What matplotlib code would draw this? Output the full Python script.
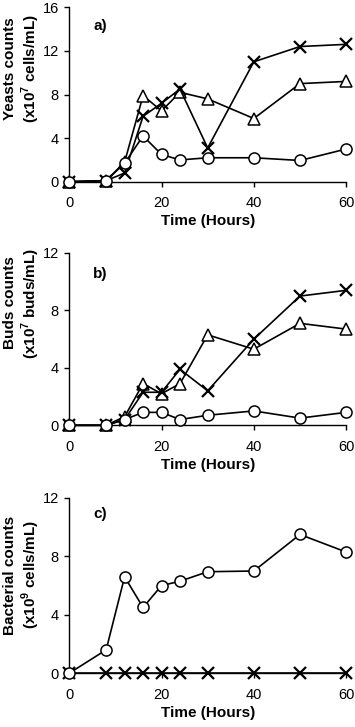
import matplotlib
matplotlib.use("Agg")
import matplotlib.pyplot as plt

plt.rcParams["font.family"] = ["Liberation Sans", "DejaVu Sans"]
plt.rcParams["mathtext.fontset"] = "custom"
plt.rcParams["mathtext.rm"] = "Liberation Sans"
plt.rcParams["mathtext.bf"] = "Liberation Sans:bold"

# sampling times (hours)
TIME = [0, 8, 12, 16, 20, 24, 30, 40, 50, 60]

# a) yeasts counts (x10^7 cells/mL)
YEAST_CIRCLE = [0, 0.1, 1.7, 4.2, 2.5, 2.0, 2.2, 2.2, 1.95, 3.0]
YEAST_TRIANGLE = [0, 0.1, 1.8, 7.9, 6.5, 8.2, 7.6, 5.8, 9.0, 9.2]
YEAST_CROSS = [0, 0.1, 0.8, 6.0, 7.2, 8.5, 3.1, 11.0, 12.4, 12.6]

# b) buds counts (x10^7 buds/mL)
BUDS_CIRCLE = [0, 0, 0.4, 0.9, 0.9, 0.4, 0.7, 1.0, 0.5, 0.9]
BUDS_TRIANGLE = [0, 0, 0.6, 2.9, 2.2, 2.9, 6.3, 5.3, 7.1, 6.7]
BUDS_CROSS = [0, 0, 0.4, 2.3, 2.3, 3.9, 2.4, 6.0, 9.0, 9.4]

# c) bacterial counts (x10^9 cells/mL)
BACT_CIRCLE = [0, 1.6, 6.6, 4.5, 6.0, 6.3, 6.95, 7.0, 9.5, 8.3]
BACT_CROSS = [0, 0, 0, 0, 0, 0, 0, 0, 0, 0]

PANELS = [
    ("a)", "Yeasts counts\n(x10$^{\\mathbf{7}}$ cells/mL)", 16, [0, 4, 8, 12, 16],
     [YEAST_CIRCLE, YEAST_TRIANGLE, YEAST_CROSS]),
    ("b)", "Buds counts\n(x10$^{\\mathbf{7}}$ buds/mL)", 12, [0, 4, 8, 12],
     [BUDS_CIRCLE, BUDS_TRIANGLE, BUDS_CROSS]),
    ("c)", "Bacterial counts\n(x10$^{\\mathbf{9}}$ cells/mL)", 12, [0, 4, 8, 12],
     [BACT_CIRCLE, None, BACT_CROSS]),
]

# axes rectangles [left, bottom, width, height] in figure fractions
RECTS = [
    [0.195, 0.750, 0.780, 0.240],
    [0.195, 0.415, 0.780, 0.237],
    [0.195, 0.074, 0.780, 0.241],
]
# vertical centre of the y label, axes fraction
YLABEL_Y = [0.65, 0.71, 0.56]
PANEL_Y = [0.89, 0.878, 0.91]

fig = plt.figure(figsize=(3.55, 7.27), dpi=100)

for (label, ylabel, ymax, yticks, series), rect, ly, py in zip(
        PANELS, RECTS, YLABEL_Y, PANEL_Y):
    ax = fig.add_axes(rect)
    circ, tri, cross = series
    style = dict(color="black", linewidth=1.2, clip_on=False)
    if tri is not None:
        ax.plot(TIME, tri, marker="^", markersize=8.5, markerfacecolor="white",
                markeredgecolor="black", markeredgewidth=1.1, zorder=3, **style)
    ax.plot(TIME, cross, marker="x", markersize=8, markeredgewidth=1.6,
            zorder=4, **style)
    ax.plot(TIME, circ, marker="o", markersize=8, markerfacecolor="white",
            markeredgecolor="black", markeredgewidth=1.1, zorder=5, **style)

    ax.set_xlim(0, 60)
    ax.set_ylim(0, ymax)
    ax.set_xticks([0, 20, 40, 60])
    ax.set_yticks(yticks)
    ax.spines["top"].set_visible(False)
    ax.spines["right"].set_visible(False)
    ax.spines["left"].set_linewidth(1.0)
    ax.spines["bottom"].set_linewidth(1.0)
    ax.tick_params(axis="both", labelsize=10.5, length=3.5, width=1.0, pad=4)
    ax.tick_params(axis="x", pad=7)
    ax.set_xlabel("Time (Hours)", fontsize=11, fontweight="bold", labelpad=3)
    ax.set_ylabel(ylabel, fontsize=11, fontweight="bold", linespacing=1.15)
    ax.yaxis.set_label_coords(-0.10, ly)
    ax.text(0.087, py, label, transform=ax.transAxes, fontsize=11,
            fontweight="bold", va="center", ha="left")

fig.savefig("out.png", dpi=100)
